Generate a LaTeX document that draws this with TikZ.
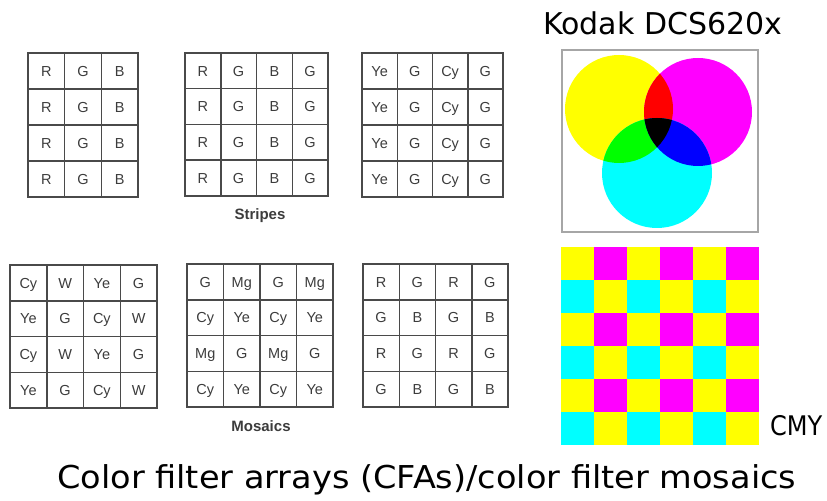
\documentclass[tikz,border=0pt]{standalone}
\usepackage{fontspec}
\setmainfont{Liberation Sans}
\newfontfamily\titlefont{DejaVu Sans}
\definecolor{cy}{rgb}{0,1,1}
\definecolor{mg}{rgb}{1,0,1}
\definecolor{ye}{rgb}{1,1,0}
\definecolor{rd}{rgb}{1,0,0}
\definecolor{gn}{rgb}{0,1,0}
\definecolor{bl}{rgb}{0,0,1}
\definecolor{ink}{HTML}{3C3C3C}
\definecolor{gridline}{HTML}{4A4A4A}
\tikzset{
  cell/.style={draw=gridline, line width=1.5bp, inner sep=0pt, text=ink,
    text height=10.4bp, text depth=0pt,
    font=\fontsize{14.5bp}{16bp}\selectfont},
  caption/.style={text=ink, font=\bfseries\fontsize{15bp}{17bp}\selectfont, inner sep=0pt},
}
\newcommand\cfagrid[6]{%
  \foreach \row [count=\i from 0] in {#6} {
    \foreach \lab [count=\j from 0] in \row {
      \node[cell, minimum width=#4bp, minimum height=#5bp] (#1-\i-\j)
        at ({#2+(\j+0.5)*#4},{#3+(\i+0.5)*#5}) {\lab};
    }
  }%
}
\begin{document}
\begin{tikzpicture}[x=1bp,y=-1bp]
\useasboundingbox (0,0) rectangle (827,501);
% stripes
\cfagrid{ga}{28}{53}{36.67}{36}{{R,G,B},{R,G,B},{R,G,B},{R,G,B}}
\cfagrid{gb}{185}{53}{35.75}{35.75}{{R,G,B,G},{R,G,B,G},{R,G,B,G},{R,G,B,G}}
\cfagrid{gc}{362}{53}{35.25}{36}{{Ye,G,Cy,G},{Ye,G,Cy,G},{Ye,G,Cy,G},{Ye,G,Cy,G}}
\node[caption] (stripes) at (260,216) {Stripes};
% mosaics
\cfagrid{gd}{10}{265}{36.75}{35.75}{{Cy,W,Ye,G},{Ye,G,Cy,W},{Cy,W,Ye,G},{Ye,G,Cy,W}}
\cfagrid{ge}{187}{264}{36.5}{35.75}{{G,Mg,G,Mg},{Cy,Ye,Cy,Ye},{Mg,G,Mg,G},{Cy,Ye,Cy,Ye}}
\cfagrid{gf}{363}{264}{36.25}{35.75}{{R,G,R,G},{G,B,G,B},{R,G,R,G},{G,B,G,B}}
\node[caption] (mosaics) at (261,426) {Mosaics};
% Kodak title
\node[anchor=base west, inner sep=0pt] (kodak) at (543,35)
  {\titlefont\fontsize{30bp}{36bp}\selectfont Kodak DCS620x};
% photo of subtractive circles
\draw[draw=gray!70, line width=1.5bp, fill=white] (562,50) rectangle (758,232);
\coordinate (Yc) at (619,109);
\coordinate (Mc) at (698,112);
\coordinate (Cc) at (657,173);
\fill[ye] (Yc) circle[radius=54];
\fill[mg] (Mc) circle[radius=54];
\fill[cy] (Cc) circle[radius=55];
\begin{scope}
  \clip (Yc) circle[radius=54];
  \fill[rd] (Mc) circle[radius=54];
  \fill[gn] (Cc) circle[radius=55];
\end{scope}
\begin{scope}
  \clip (Mc) circle[radius=54];
  \fill[bl] (Cc) circle[radius=55];
\end{scope}
\begin{scope}
  \clip (Yc) circle[radius=54];
  \clip (Mc) circle[radius=54];
  \fill[black] (Cc) circle[radius=55];
\end{scope}
% CMY checkerboard
\foreach \r in {0,...,5} {
  \foreach \c in {0,...,5} {
    \pgfmathtruncatemacro\odd{mod(\r,2)}
    \pgfmathtruncatemacro\oc{mod(\c,2)}
    \ifnum\oc=1
      \ifnum\odd=0 \def\col{mg}\else\def\col{ye}\fi
    \else
      \ifnum\odd=0 \def\col{ye}\else\def\col{cy}\fi
    \fi
    \fill[\col] ({561+33*\c},{247+33*\r}) rectangle ++(33,33);
  }
}
\node[anchor=base west, inner sep=0pt] (cmy) at (770,435)
  {\titlefont\fontsize{27bp}{30bp}\selectfont\scalebox{0.89}[1]{CMY}};
% bottom title
\node[anchor=base west, inner sep=0pt] (title) at (57,488)
  {\titlefont\fontsize{31.5bp}{36bp}\selectfont\scalebox{1.065}[1]{Color filter arrays (CFAs)/color filter mosaics}};
\end{tikzpicture}
\end{document}
